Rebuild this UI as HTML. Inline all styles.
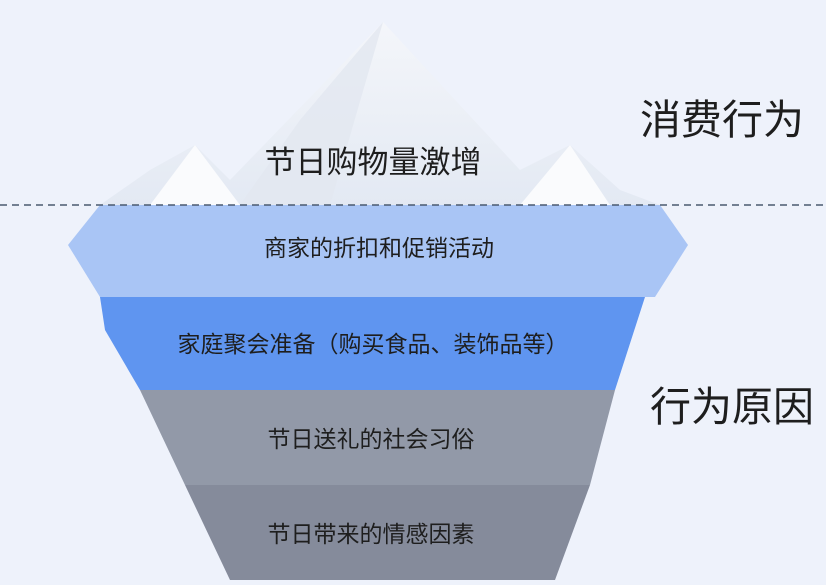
<!DOCTYPE html>
<html><head><meta charset="utf-8"><style>
body{margin:0;width:826px;height:585px;overflow:hidden;background:#eef2fb;font-family:"Liberation Sans","Noto Sans CJK SC",sans-serif}
svg{position:absolute;left:0;top:0}
</style></head><body>
<svg width="826" height="585" viewBox="0 0 826 585">
<defs>
<linearGradient id="ice" x1="0" y1="0" x2="0" y2="1"><stop offset="0" stop-color="#f4f6fa"/><stop offset="1" stop-color="#e3e9f3"/></linearGradient>
</defs>
<polygon points="100,205 150,170 195,145 230,180 383,22 520,170 570,145 620,190 660,205" fill="url(#ice)"/>
<polygon points="383,22 300,120 240,205 330,205" fill="#e2e7f0" opacity="0.8"/>
<polygon points="195,145 150,205 240,205" fill="#fafbfd"/>
<polygon points="570,145 520,205 610,205" fill="#fafbfd"/>
<polygon points="100,205 660,205 688,245 655,297 100,297 68,245" fill="#a9c5f5"/>
<polygon points="100,297 645,297 615,390 140,390 105,330" fill="#5f95f0"/>
<polygon points="140,390 615,390 590,485 185,485" fill="#9299a8"/>
<polygon points="185,485 590,485 555,580 230,580" fill="#858b9b"/>
<line x1="0" y1="205" x2="826" y2="205" stroke="#4a5a70" stroke-width="1.5" stroke-dasharray="7,5"/>
<g font-family="Liberation Sans, Noto Sans CJK SC, sans-serif" fill="#1e1e1e" text-anchor="middle">
<text x="373" y="173" font-size="31">节日购物量激增</text>
<text x="379" y="256" font-size="23">商家的折扣和促销活动</text>
<text x="373" y="352" font-size="23">家庭聚会准备（购买食品、装饰品等）</text>
<text x="371" y="447" font-size="23">节日送礼的社会习俗</text>
<text x="371" y="542" font-size="23">节日带来的情感因素</text>
<text x="722" y="134" font-size="41">消费行为</text>
<text x="732" y="421" font-size="41">行为原因</text>
</g>
</svg>
</body></html>
